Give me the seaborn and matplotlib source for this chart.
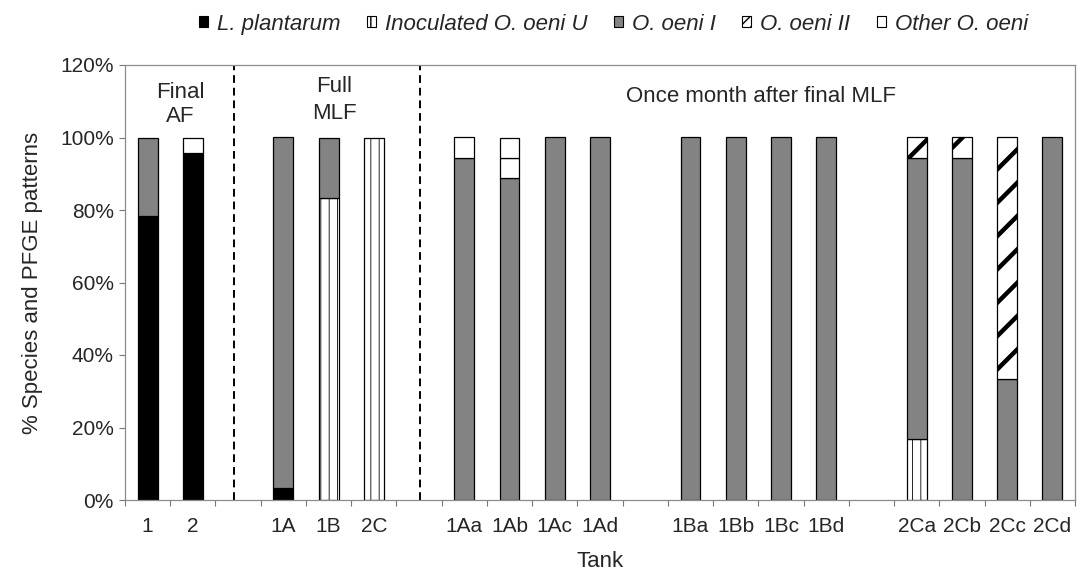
import matplotlib
matplotlib.use("Agg")
import matplotlib.pyplot as plt
from matplotlib.patches import Patch
from matplotlib.ticker import FixedLocator, FuncFormatter
import seaborn as sns
import numpy as np
import pandas as pd

# ---------------- data ----------------
slots = ["1", "2", " ", "1A", "1B", "2C", "  ", "1Aa", "1Ab", "1Ac", "1Ad", "   ",
         "1Ba", "1Bb", "1Bc", "1Bd", "    ", "2Ca", "2Cb", "2Cc", "2Cd"]
tanks = ["1", "2", "1A", "1B", "2C", "1Aa", "1Ab", "1Ac", "1Ad",
         "1Ba", "1Bb", "1Bc", "1Bd", "2Ca", "2Cb", "2Cc", "2Cd"]
l_plantarum  = [78.3, 95.7, 3.3, 0, 0, 0, 0, 0, 0, 0, 0, 0, 0, 0, 0, 0, 0]
inoculated_u = [0, 0, 0, 83.3, 100, 0, 0, 0, 0, 0, 0, 0, 0, 16.7, 0, 0, 0]
o_oeni_i     = [21.7, 0, 96.7, 16.7, 0, 94.4, 88.9, 100, 100, 100, 100, 100, 100, 77.7, 94.4, 33.3, 100]
o_oeni_ii    = [0, 0, 0, 0, 0, 0, 0, 0, 0, 0, 0, 0, 0, 5.6, 5.6, 66.7, 0]
other_a      = [0, 4.3, 0, 0, 0, 5.6, 5.55, 0, 0, 0, 0, 0, 0, 0, 0, 0, 0]
other_b      = [0, 0, 0, 0, 0, 0, 5.55, 0, 0, 0, 0, 0, 0, 0, 0, 0, 0]
legend_labels = ["L. plantarum", "Inoculated O. oeni U", "O. oeni I", "O. oeni II", "Other O. oeni"]
yticks = [0, 20, 40, 60, 80, 100, 120]
group_labels = [("Final", "AF"), ("Full", "MLF"), ("Once month after final MLF",)]

# ---------------- style ----------------
sns.set_theme(style="white")
plt.rcParams["font.family"] = ["Liberation Sans", "DejaVu Sans"]

GRAY = "#838383"
styles = [
    dict(face="black", hatch=None, hlw=1.0),
    dict(face="white", hatch="||", hlw=0.6),
    dict(face=GRAY, hatch=None, hlw=1.0),
    dict(face="white", hatch="/", hlw=3.2),
    dict(face="white", hatch=None, hlw=1.0),
    dict(face="white", hatch=None, hlw=1.0),
]
series = [l_plantarum, inoculated_u, o_oeni_i, o_oeni_ii, other_a, other_b]

fig = plt.figure(figsize=(10.78, 5.74), dpi=100)
ax = fig.add_axes([125 / 1078, 1 - 500 / 574, 950 / 1078, 435 / 574])

bottom = np.zeros(len(tanks))
tank_arr = np.array(tanks)
for vals, st in zip(series, styles):
    vals = np.asarray(vals, dtype=float)
    mask = vals > 0
    df = pd.DataFrame({"tank": tank_arr[mask], "pct": vals[mask]})
    n_before = len(ax.patches)
    with plt.rc_context({"hatch.linewidth": st["hlw"]}):
        sns.barplot(data=df, x="tank", y="pct", order=slots, ax=ax, errorbar=None,
                    width=0.44, bottom=bottom[mask], color=st["face"], saturation=1,
                    facecolor=st["face"], edgecolor="black", linewidth=0.9,
                    hatch=st["hatch"])
    for p in ax.patches[n_before:]:
        if hasattr(p, "set_hatch_linewidth"):
            p.set_hatch_linewidth(st["hlw"])
    bottom += vals

# separators
for xs in (1.91, 6.02):
    ax.axvline(xs, ymin=0, ymax=1, color="black", lw=1.4, ls=(0, (4, 2.5)))

# group annotations
ax.text(0.72, 110.8, group_labels[0][0], ha="center", va="baseline", fontsize=16)
ax.text(0.72, 104.2, group_labels[0][1], ha="center", va="baseline", fontsize=16)
ax.text(4.12, 112.6, group_labels[1][0], ha="center", va="baseline", fontsize=16)
ax.text(4.12, 105.2, group_labels[1][1], ha="center", va="baseline", fontsize=16)
ax.text(13.57, 109.9, group_labels[2][0], ha="center", va="baseline", fontsize=16)

# axes
ax.set_xlim(-0.5, len(slots) - 0.5)
ax.set_ylim(0, 120)
ax.yaxis.set_major_locator(FixedLocator(yticks))
ax.yaxis.set_major_formatter(FuncFormatter(lambda v, _: f"{v:.0f}%"))
ax.xaxis.set_minor_locator(FixedLocator(np.arange(-0.5, len(slots), 1.0)))
ax.tick_params(axis="x", which="major", length=0, pad=12, labelsize=15)
ax.tick_params(axis="x", which="minor", length=4, width=0.8, color="#777777", direction="out", bottom=True)
ax.tick_params(axis="y", which="major", length=4, width=0.8, color="#777777", direction="out", left=True, pad=4, labelsize=15)
ax.set_xlabel("Tank", fontsize=16, labelpad=11)
ax.set_ylabel("% Species and PFGE patterns", fontsize=16, labelpad=12)
for s in ax.spines.values():
    s.set_visible(True)
    s.set_color("#8c8c8c")
    s.set_linewidth(0.9)
ax.grid(False)

# legend
handles = [
    Patch(facecolor="black", edgecolor="black", lw=0.8),
    Patch(facecolor="white", edgecolor="black", hatch="||", lw=0.8),
    Patch(facecolor=GRAY, edgecolor="black", lw=0.8),
    Patch(facecolor="white", edgecolor="black", hatch="///", lw=0.8),
    Patch(facecolor="white", edgecolor="black", lw=0.8),
]
fig.legend(handles, legend_labels, loc="center", bbox_to_anchor=(0.569, 0.958), ncol=5,
           frameon=False, handlelength=0.4, handleheight=0.4, handletextpad=0.4,
           columnspacing=1.2, prop={"style": "italic", "size": 16})

fig.savefig("out.png", dpi=100)
